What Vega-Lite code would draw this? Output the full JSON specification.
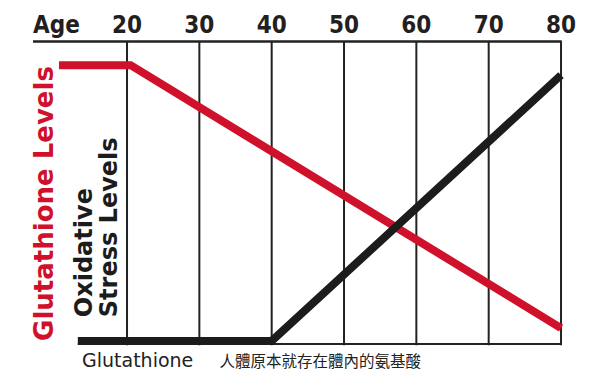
{
  "$schema": "https://vega.github.io/schema/vega-lite/v6.json",
  "width": 594,
  "height": 376,
  "autosize": "none",
  "padding": 0,
  "background": "white",
  "config": {"view": {"stroke": null}},
  "datasets": {
    "ticks": [
      {"age": 20, "label": "20"},
      {"age": 30, "label": "30"},
      {"age": 40, "label": "40"},
      {"age": 50, "label": "50"},
      {"age": 60, "label": "60"},
      {"age": 70, "label": "70"},
      {"age": 80, "label": "80"}
    ],
    "levels": [
      {"series": "Glutathione", "age": 10.6, "level": 92.2},
      {"series": "Glutathione", "age": 20.5, "level": 92.2},
      {"series": "Glutathione", "age": 80, "level": 5.0},
      {"series": "Oxidative", "age": 13.2, "level": 0.7},
      {"series": "Oxidative", "age": 40, "level": 0.7},
      {"series": "Oxidative", "age": 80, "level": 88.9}
    ]
  },
  "layer": [
    {
      "data": {"name": "ticks"},
      "mark": {"type": "rule", "color": "#222222", "strokeWidth": 2},
      "encoding": {
        "x": {"field": "age", "type": "quantitative", "scale": {"domain": [2.44, 84.56], "nice": false, "zero": false}, "axis": null},
        "y": {"datum": 100, "type": "quantitative", "scale": {"domain": [-10.9, 113.8], "nice": false, "zero": false}, "axis": null},
        "y2": {"datum": -0.7}
      }
    },
    {
      "data": {"values": [{}]},
      "mark": {"type": "rule", "color": "#222222", "strokeWidth": 2.5},
      "encoding": {
        "x": {"datum": 7.0, "type": "quantitative"},
        "x2": {"datum": 80.1},
        "y": {"datum": 100, "type": "quantitative"}
      }
    },
    {
      "data": {"values": [{}]},
      "mark": {"type": "rule", "color": "#222222", "strokeWidth": 2},
      "encoding": {
        "x": {"datum": 13.2, "type": "quantitative"},
        "x2": {"datum": 80.1},
        "y": {"datum": -0.3, "type": "quantitative"}
      }
    },
    {
      "data": {"name": "levels"},
      "mark": {"type": "line", "strokeWidth": 8, "strokeCap": "butt", "strokeJoin": "miter"},
      "encoding": {
        "x": {"field": "age", "type": "quantitative"},
        "y": {"field": "level", "type": "quantitative"},
        "color": {"field": "series", "type": "nominal", "scale": {"domain": ["Glutathione", "Oxidative"], "range": ["#d0112b", "#1c1c1c"]}, "legend": null},
        "detail": {"field": "series"}
      }
    },
    {
      "data": {"name": "ticks"},
      "mark": {"type": "text", "font": "'DejaVu Sans Condensed', Roboto, sans-serif", "fontWeight": "bold", "fontSize": 24, "align": "center", "baseline": "alphabetic", "color": "#231f20"},
      "encoding": {
        "x": {"field": "age", "type": "quantitative"},
        "y": {"datum": 102.8, "type": "quantitative"},
        "text": {"field": "label"}
      }
    },
    {
      "data": {"values": [{}]},
      "mark": {"type": "text", "text": "Age", "font": "'DejaVu Sans Condensed', Roboto, sans-serif", "fontWeight": "bold", "fontSize": 24, "align": "left", "baseline": "alphabetic", "color": "#231f20"},
      "encoding": {
        "x": {"datum": 7.0, "type": "quantitative"},
        "y": {"datum": 102.8, "type": "quantitative"}
      }
    },
    {
      "data": {"values": [{}]},
      "mark": {"type": "text", "text": "Glutathione Levels", "font": "DejaVu Sans", "fontWeight": "bold", "fontSize": 26, "angle": 270, "align": "center", "baseline": "alphabetic", "color": "#d0112b"},
      "encoding": {
        "x": {"datum": 9.77, "type": "quantitative"},
        "y": {"datum": 46.3, "type": "quantitative"}
      }
    },
    {
      "data": {"values": [{}]},
      "mark": {"type": "text", "text": ["Oxidative", "Stress Levels"], "lineHeight": 25, "font": "DejaVu Sans", "fontWeight": "bold", "fontSize": 24, "angle": 270, "align": "left", "baseline": "alphabetic", "color": "#1c1c1c"},
      "encoding": {
        "x": {"datum": 15.16, "type": "quantitative"},
        "y": {"datum": 8.6, "type": "quantitative"}
      }
    },
    {
      "data": {"values": [{}]},
      "mark": {"type": "text", "text": "Glutathione", "font": "DejaVu Sans", "fontSize": 19, "align": "left", "baseline": "alphabetic", "color": "#222222"},
      "encoding": {
        "x": {"datum": 13.78, "type": "quantitative"},
        "y": {"datum": -7.96, "type": "quantitative"}
      }
    },
    {
      "data": {"values": [{}]},
      "mark": {"type": "text", "text": "人體原本就存在體內的氨基酸", "font": "Noto Sans CJK TC", "fontSize": 15.5, "align": "left", "baseline": "alphabetic", "color": "#222222"},
      "encoding": {
        "x": {"datum": 32.8, "type": "quantitative"},
        "y": {"datum": -7.96, "type": "quantitative"}
      }
    }
  ]
}
